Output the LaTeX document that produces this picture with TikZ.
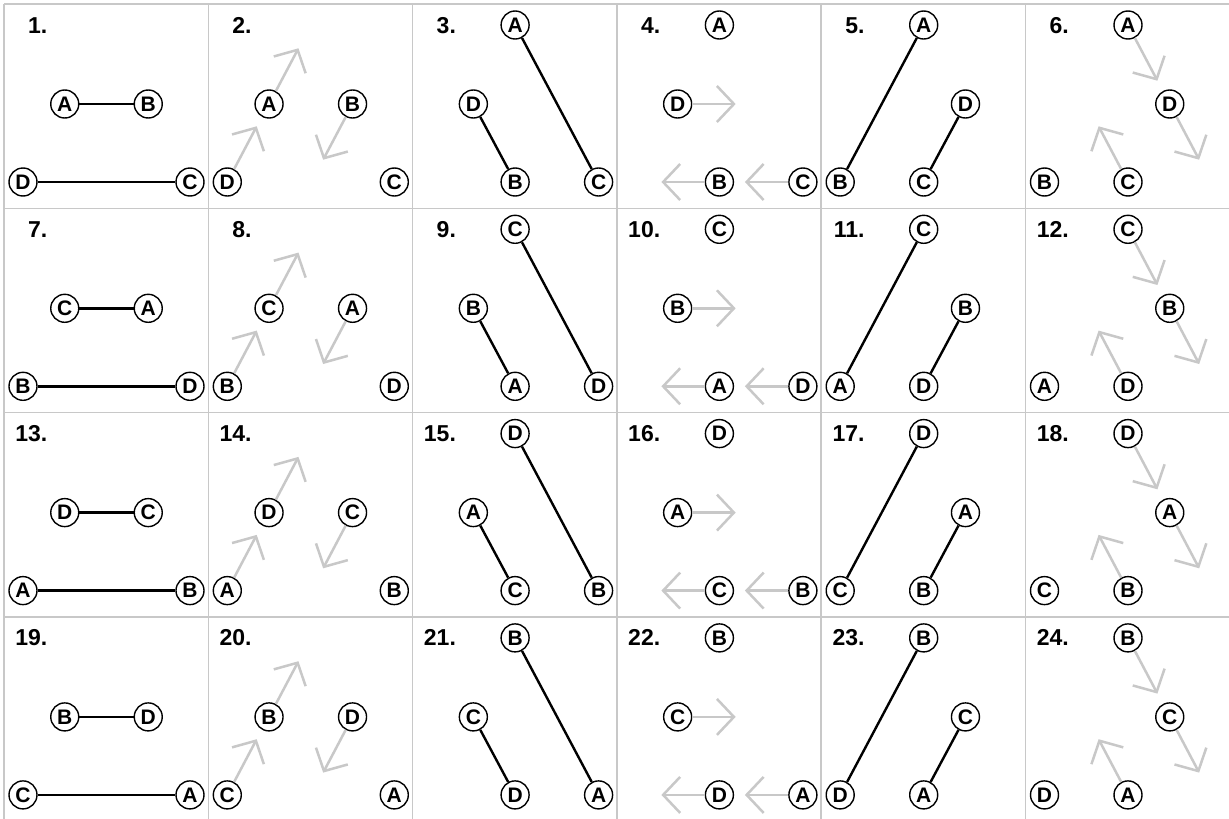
\documentclass[tikz,border=0pt]{standalone}
\usepackage{fontspec}
\setmainfont{Liberation Sans}
\usetikzlibrary{arrows.meta}
\definecolor{gridc}{HTML}{C8C8C8}
\definecolor{arrc}{HTML}{C8C8C8}
\tikzset{
 pt/.style={circle, draw=black, line width=1.4pt, minimum size=28pt, inner sep=0pt, fill=white,
   font=\fontsize{21}{21}\selectfont\bfseries},
 link/.style={line width=2.4pt, black},
 garrow/.style={line width=2.5pt, arrc, -{Straight Barb[length=17pt, width=36pt, line width=2.5pt]}},
 numlbl/.style={anchor=base east, inner sep=0pt, font=\fontsize{23}{23}\selectfont\bfseries},
 gridline/.style={gridc, line width=1.5pt}
}
% role layouts: #1 id, #2..#5 labels for roles A,B,C,D
\newcommand\layoutone[5]{%
 \node[pt] (#1A) at (60.75,100) {#2};
 \node[pt] (#1B) at (144.25,100) {#3};
 \node[pt] (#1C) at (186,178) {#4};
 \node[pt] (#1D) at (19,178) {#5};}
\newcommand\layouttwo[5]{%
 \node[pt] (#1A) at (102.5,21) {#2};
 \node[pt] (#1B) at (102.5,178) {#3};
 \node[pt] (#1C) at (186,178) {#4};
 \node[pt] (#1D) at (60.75,100) {#5};}
\newcommand\layoutthree[5]{%
 \node[pt] (#1A) at (102.5,21) {#2};
 \node[pt] (#1B) at (19,178) {#3};
 \node[pt] (#1C) at (102.5,178) {#4};
 \node[pt] (#1D) at (144.25,100) {#5};}
\newcommand\garr[3]{%
 \path (#1) ++(#2,#3) coordinate (#1t);
 \draw[garrow] (#1) -- (#1t);}
\newcommand\mycell[6]{%
 \begin{scope}[shift={({4+204.3*#1},{4+204.3*#2})}]
  \pgfmathtruncatemacro\cellnum{6*#2+#1+1}
  \node[numlbl] (lab#1#2) at (43.5,29) {\cellnum.};
  \ifcase#1
   \layoutone{c#1#2}{#3}{#4}{#5}{#6}
   \draw[link] (c#1#2A) -- (c#1#2B);
   \draw[link] (c#1#2D) -- (c#1#2C);
  \or
   \layoutone{c#1#2}{#3}{#4}{#5}{#6}
   \garr{c#1#2D}{29.4}{-55.7}
   \garr{c#1#2A}{29.4}{-55.7}
   \garr{c#1#2B}{-29.4}{55.7}
  \or
   \layouttwo{c#1#2}{#3}{#4}{#5}{#6}
   \draw[link] (c#1#2D) -- (c#1#2B);
   \draw[link] (c#1#2A) -- (c#1#2C);
  \or
   \layouttwo{c#1#2}{#3}{#4}{#5}{#6}
   \garr{c#1#2D}{58}{0}
   \garr{c#1#2B}{-58}{0}
   \garr{c#1#2C}{-58}{0}
  \or
   \layoutthree{c#1#2}{#3}{#4}{#5}{#6}
   \draw[link] (c#1#2A) -- (c#1#2B);
   \draw[link] (c#1#2D) -- (c#1#2C);
  \or
   \layoutthree{c#1#2}{#3}{#4}{#5}{#6}
   \garr{c#1#2A}{29.4}{55.7}
   \garr{c#1#2D}{29.4}{55.7}
   \garr{c#1#2C}{-29.4}{-55.7}
  \fi
 \end{scope}}
\begin{document}
\begin{tikzpicture}[x=1pt,y=-1pt]
\useasboundingbox (0,0) rectangle (1229,819);
\fill[white] (0,0) rectangle (1229,819);
\foreach \k in {0,...,6} \draw[gridline] ({4+204.3*\k},4) -- ({4+204.3*\k},819);
\foreach \k in {0,...,4} \draw[gridline] (4,{4+204.3*\k}) -- (1229,{4+204.3*\k});
\foreach \c in {0,...,5} {
 \mycell{\c}{0}{A}{B}{C}{D}
 \mycell{\c}{1}{C}{A}{D}{B}
 \mycell{\c}{2}{D}{C}{B}{A}
 \mycell{\c}{3}{B}{D}{A}{C}
}
\end{tikzpicture}
\end{document}
